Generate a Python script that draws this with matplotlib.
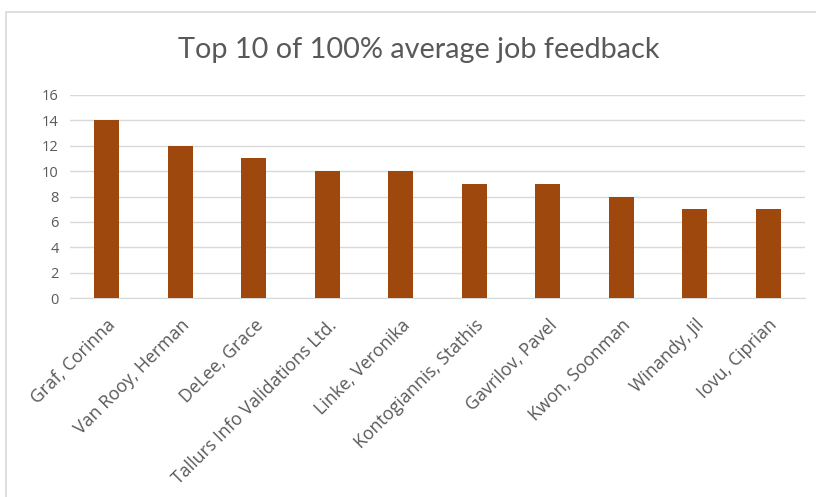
import matplotlib
matplotlib.use("Agg")
import matplotlib.pyplot as plt
from matplotlib.patches import Rectangle

names = ["Graf, Corinna", "Van Rooy, Herman", "DeLee, Grace", "Tallurs Info Validations Ltd.",
         "Linke, Veronika", "Kontogiannis, Stathis", "Gavrilov, Pavel", "Kwon, Soonman",
         "Winandy, Jil", "Iovu, Ciprian"]
values = [14, 12, 11, 10, 10, 9, 9, 8, 7, 7]
yticks = [0, 2, 4, 6, 8, 10, 12, 14, 16]

plt.rcParams['font.family'] = ['Open Sans', 'DejaVu Sans']
W, H = 816, 497
fig = plt.figure(figsize=(W/100, H/100), dpi=100)
fig.patch.set_facecolor('white')

# chart border
fig.patches.append(Rectangle((6/W, -0.01), 1.0, 1 - 12/H + 0.01, transform=fig.transFigure,
                             fill=False, edgecolor='#d9d9d9', lw=1.2))

ax = fig.add_axes([70/W, 1 - 298/H, (805-70)/W, (298-95)/H])
x = list(range(len(names)))
ax.bar(x, values, width=0.34, color='#9E480E', zorder=3)
ax.set_xlim(-0.5, len(names) - 0.5)
ax.set_ylim(0, 16)
ax.set_yticks(yticks)
ax.yaxis.grid(True, color='#d9d9d9', lw=1, zorder=0)
ax.set_axisbelow(True)
for s in ['top', 'right', 'left']:
    ax.spines[s].set_visible(False)
ax.spines['bottom'].set_color('#d9d9d9')
ax.tick_params(axis='both', length=0, colors='#595959', labelsize=12.8)
ax.tick_params(axis='y', pad=8, labelsize=10.5)
ax.set_xticks(x)
ax.set_xticklabels(names, rotation=45, ha='right', rotation_mode='anchor')
ax.tick_params(axis='x', pad=13)

fig.text(419/W, 1 - 50/H, "Top 10 of 100% average job feedback", ha='center', va='center',
         fontsize=20.8, color='#595959', family=['Lato', 'DejaVu Sans'])

fig.savefig("out.png", dpi=100, facecolor='white')
